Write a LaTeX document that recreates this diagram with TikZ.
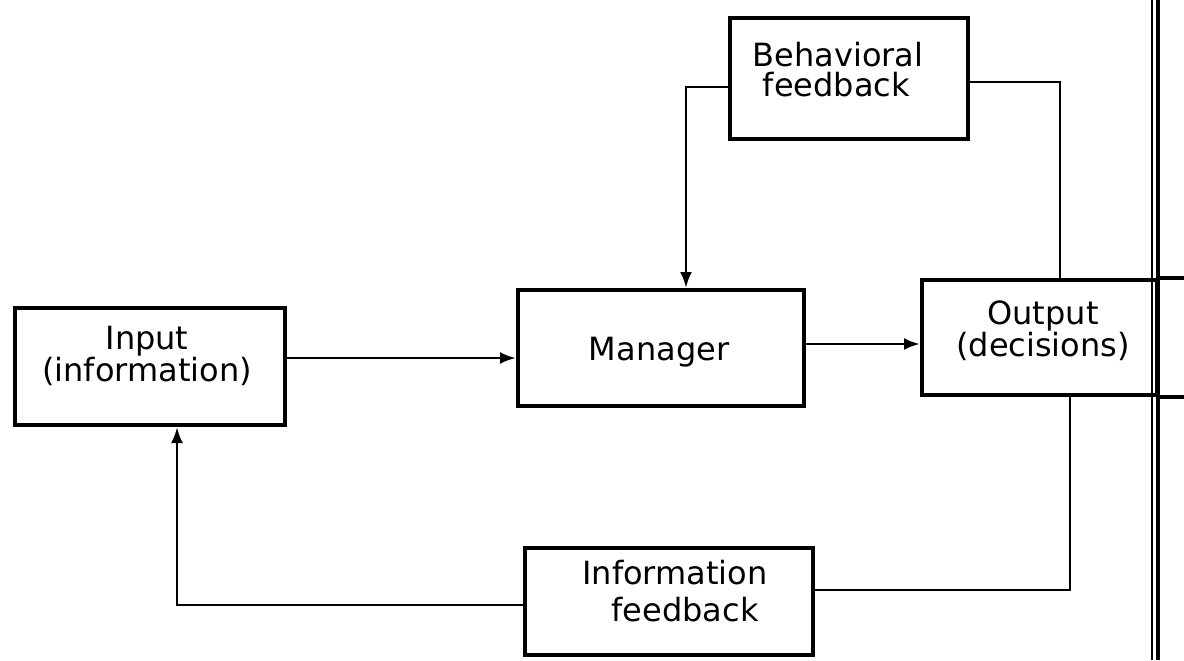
\documentclass[tikz,border=0pt]{standalone}
\usepackage{fontspec}
\setmainfont{DejaVu Sans}
\usetikzlibrary{arrows.meta}
\begin{document}
\begin{tikzpicture}[x=0.75pt,y=-0.75pt,
  box/.style={draw,line width=3pt,inner sep=0pt},
  lbl/.style={align=center,inner sep=0pt,font=\fontsize{24}{24}\selectfont},
  link/.style={line width=2.2pt},
  tip/.style={-{Latex[length=12pt,width=9pt]}}]
\useasboundingbox (0,0) rectangle (1184,660);

% blocks
\node[box,minimum width=202.5pt,minimum height=87.75pt] (input)  at (150,366.5) {};
\node[box,minimum width=214.5pt,minimum height=87pt]    (manager) at (661,348) {};
\node[box,minimum width=178.5pt,minimum height=90.75pt] (behav)  at (849,78.5) {};
\node[box,minimum width=176.25pt,minimum height=86.25pt] (output) at (1039.5,337.5) {};
\node[box,minimum width=216pt,minimum height=80.25pt]   (info)   at (669,601.5) {};

% labels
\node[lbl] (tin)   at (147,356) {Input\\(information)};
\node[lbl] (tman)  at (659,352) {Manager};
\node[lbl] (tout)  at (1043,331) {Output\\(decisions)};
\node[lbl,align=left,font=\fontsize{24}{22.5}\selectfont] (tbeh) at (838,70) {Behavioral\\\ feedback};
\node[lbl,font=\fontsize{24}{27.75}\selectfont] (tinfo) at (675,591) {Information\\\ \ feedback};

% forward path
\coordinate (r1) at (0,358);
\draw[link,tip] (input.east |- r1) -- (manager.west |- r1);
\coordinate (r2) at (0,344);
\draw[link,tip] (manager.east |- r2) -- (output.west |- r2);

% behavioral feedback loop
\coordinate (bt) at (1060,82);
\draw[link] (output.north -| bt) -- (bt) -- (behav.east |- bt);
\coordinate (bl) at (686,87);
\draw[link,tip] (behav.west |- bl) -- (bl) -- (manager.north -| bl);

% information feedback loop
\coordinate (ib) at (1070,590);
\draw[link] (output.south -| ib) -- (ib) -- (info.east |- ib);
\coordinate (il) at (177,605);
\draw[link,tip] (info.west |- il) -- (il) -- (input.south -| il);

% page edge at the right
\coordinate (e1) at (1184,0);
\draw[line width=3pt] (output.north east) -- (output.north east -| e1);
\draw[line width=3pt] (output.south east) -- (output.south east -| e1);
\draw[line width=2.5pt] (1158,0) -- (1158,660);
\draw[line width=1.2pt] (1152,0) -- (1152,660);
\end{tikzpicture}
\end{document}
